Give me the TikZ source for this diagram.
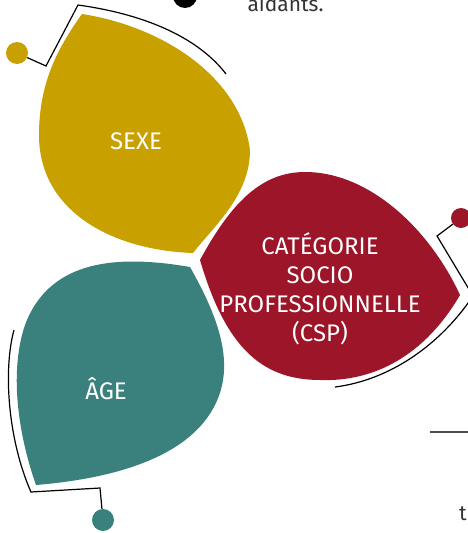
\documentclass[tikz,border=0pt]{standalone}
\usepackage{fontspec}
\setmainfont{Fira Sans}
\definecolor{sexegold}{HTML}{C8A000}
\definecolor{cspred}{HTML}{9C1528}
\definecolor{agegreen}{HTML}{3A817E}
\definecolor{textgray}{HTML}{333333}
\begin{document}
\begin{tikzpicture}[x=1pt, y=-1pt,
  label/.style={text=white, align=center, font=\fontsize{24}{29}\selectfont},
  dot/.style={circle, inner sep=0pt, minimum size=22pt},
  rim/.style={black, line width=1.2pt}]
\useasboundingbox (0,0) rectangle (468,533);
\clip (0,0) rectangle (468,533);

% petals
\fill [sexegold] (82,14) .. controls (160,26) and (240,75) .. (250,150)
  .. controls (250,195) and (215,225) .. (193,253)
  .. controls (110,250) and (39,210) .. (39,135)
  .. controls (39,80) and (60,45) .. (82,14);
\fill [cspred] (200,260) .. controls (230,205) and (260,172) .. (305,172)
  .. controls (370,172) and (430,230) .. (460,295)
  .. controls (425,355) and (375,382) .. (320,380)
  .. controls (260,380) and (225,345) .. (200,260);
\fill [agegreen] (190,267) .. controls (120,255) and (50,258) .. (25,325)
  .. controls (8,375) and (20,440) .. (36,485)
  .. controls (120,478) and (190,455) .. (215,405)
  .. controls (235,365) and (220,320) .. (190,267);

\node (sexe) [label] at (136,141) {SEXE};
\node (csp) [label] at (320,289) {CATÉGORIE\\SOCIO\\PROFESSIONNELLE\\(CSP)};
\node (age) [label] at (106,389) {ÂGE};

% dots and rims
\node (dtop) [dot, fill=black, minimum size=24pt] at (185,-4) {};
\coordinate (s1) at (46,66);
\coordinate (s2) at (78,5);
\coordinate (s3) at (226,74);
\coordinate (c1) at (437,236);
\coordinate (c2) at (473,296);
\coordinate (c3) at (335,387);
\coordinate (a1) at (14,330);
\coordinate (a2) at (31,492);
\coordinate (a3) at (100,488);
\node (dsexe) [dot, fill=sexegold] at (17,53) {};
\node (dcsp) [dot, fill=cspred, minimum size=20pt] at (461,218) {};
\node (dage) [dot, fill=agegreen] at (103,520) {};
\draw [rim] (dsexe) -- (s1) -- (s2) .. controls (150,15) and (200,40) .. (s3);
\draw [rim] (dcsp) -- (c1) -- (c2) .. controls (440,345) and (390,380) .. (c3);
\draw [rim] (a1) .. controls (3,370) and (8,440) .. (a2) -- (a3) -- (dage);

% text around
\node (aidants) [anchor=base west, text=textgray, font=\fontsize{21}{25}\selectfont] at (244,11) {aidants.};
\node (t) [anchor=base west, text=textgray, font=\fontsize{21}{25}\selectfont, inner sep=0pt] at (459,520) {t};
\coordinate (r1) at (430,432);
\coordinate (r2) at (470,432);
\draw [line width=2pt, black!70] (r1) -- (r2);
\end{tikzpicture}
\end{document}
